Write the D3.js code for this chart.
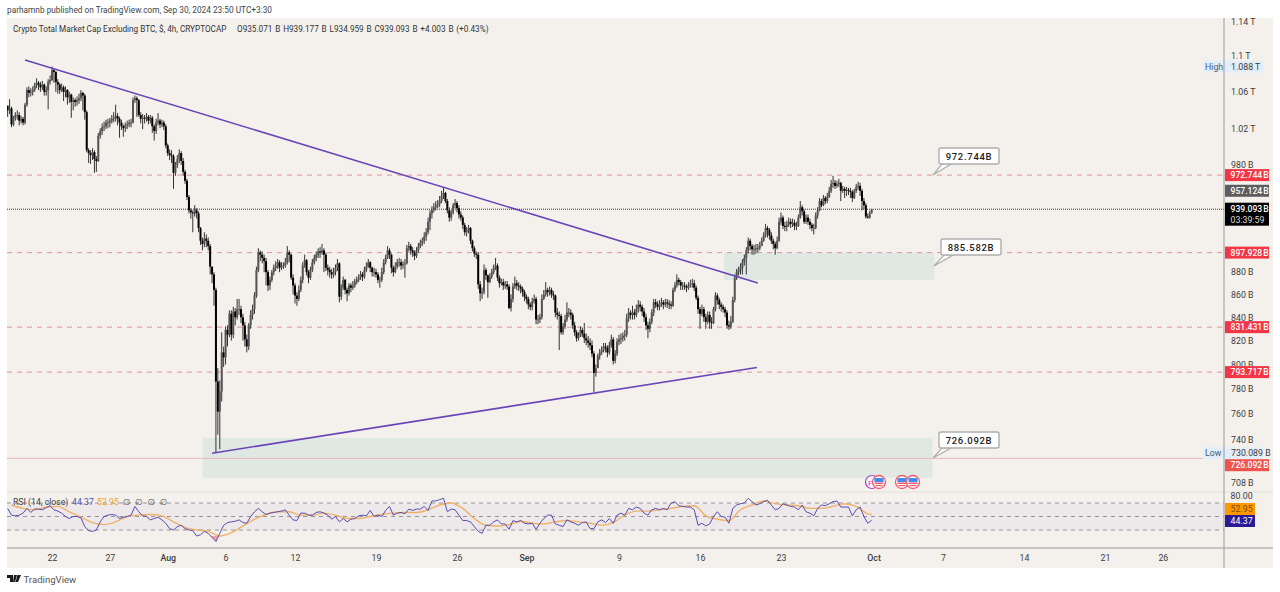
<!DOCTYPE html>
<meta charset="utf-8">
<style type="text/css">
    html, body { margin: 0; padding: 0; background: #fff; }
    svg { display: block; }
    text { font-family: Roboto, sans-serif; }
    .tick text { font-size: 8.8px; fill: #3c3c3c; font-family: Roboto, sans-serif; }
</style>
<body>
</body>
<script src="https://cdn.jsdelivr.net/npm/d3@7"></script>
<script>
    // 4h bars in billions, one row per day, Jul 18 04:00 to Sep 30 20:00
    var firstOpen = 1045;
    var closes = [
        1040,1042,1025,1032,1035,
        1035,1029,1031,1027,1046,1062, 1059,1060,1062,1067,1070,1068, 1065,1068,1060,1062,1071,1073,
        1084,1082,1071,1068,1062,1065, 1060,1062,1054,1057,1049,1051, 1049,1051,1053,1059,1056,1038,
        998,995,993,996,989,987, 1013,1018,1022,1023,1027,1027, 1029,1031,1032,1034,1031,1027,
        1023,1021,1024,1025,1027,1027, 1051,1053,1051,1035,1031,1032, 1031,1033,1029,1032,1023,1018,
        1027,1029,1025,1027,1023,1003, 995,993,992,975,983,989, 995,987,976,967,951,938,
        936,935,938,935,921,909, 906,911,909,904,885,878, 864,786,762,778,810,806,
        829,825,843,825,845,840, 847,847,840,833,821,815, 833,842,847,859,882,898,
        896,893,890,880,868,873, 880,884,886,889,884,886, 886,889,898,896,875,868,
        859,856,864,873,886,891, 880,875,882,889,893,896, 899,898,900,896,884,882,
        880,878,880,884,888,858, 866,873,864,861,868,866, 868,871,873,875,878,876,
        882,885,889,884,880,880, 878,873,873,880,889,893, 900,896,884,880,885,889,
        889,886,887,888,902,904, 900,898,895,900,904,907, 909,913,917,927,935,938,
        941,943,944,947,952,955, 947,938,931,936,943,945, 940,934,931,924,917,919,
        921,909,902,897,896,869, 861,862,882,877,871,876, 880,884,886,875,870,871,
        868,869,867,848,856,867, 870,868,867,865,862,858, 856,851,849,854,856,838,
        838,840,856,860,864,862, 864,860,859,844,842,841, 827,832,838,844,844,842,
        833,827,822,824,829,826, 822,820,818,816,809,793, 797,807,810,812,815,814,
        810,816,821,803,809,819, 821,822,824,825,839,844, 842,844,842,847,851,849,
        845,840,833,830,836,844, 853,851,849,852,853,851, 853,852,851,850,864,868,
        873,871,868,868,867,866, 868,869,870,866,857,847, 843,847,840,836,842,836,
        835,847,859,855,851,849, 847,844,833,832,836,855, 875,880,882,884,889,893,
        900,909,904,901,901,902, 902,904,909,914,921,919, 914,909,906,902,909,927,
        931,923,922,924,927,925, 926,923,923,931,941,937, 927,931,927,924,921,921,
        933,938,947,943,950,947, 951,957,964,965,962,964, 965,957,959,957,958,957,
        956,950,957,961,962,957, 947,943,932,931,935.071,939.093
    ];
    var highs = [
        1045,1052,1044,1034,1038,
        1040,1038,1034,1033,1048,1065, 1066,1064,1066,1070,1075,1072, 1071,1072,1069,1066,1074,1078,
        1088,1086,1083,1074,1070,1069, 1067,1066,1063,1060,1058,1054, 1053,1055,1058,1062,1060,1058,
        1040,1000,998,1000,998,992, 1016,1021,1026,1028,1030,1031, 1032,1035,1038,1046,1037,1033,
        1030,1025,1027,1029,1030,1031, 1054,1056,1055,1052,1038,1036, 1035,1037,1035,1035,1034,1025,
        1031,1037,1031,1030,1029,1025, 1005,999,998,994,986,993, 999,997,990,978,969,953,
        940,938,943,940,937,922, 912,917,915,912,906,885, 880,866,797,787,827,815,
        832,833,846,846,849,848, 856,856,850,843,836,825, 835,846,851,862,885,902,
        900,899,896,893,882,876, 882,887,890,892,891,889, 889,893,904,900,897,878,
        870,862,868,876,889,896, 892,882,885,892,896,899, 902,903,906,902,898,887,
        885,883,884,887,892,889, 869,876,874,866,870,870, 872,874,876,878,881,880,
        885,889,892,890,885,884, 883,880,876,884,892,896, 904,902,897,886,889,892,
        893,892,890,892,905,908, 906,903,900,903,907,910, 912,917,921,931,938,942,
        945,947,948,952,957,960, 956,949,941,938,945,949, 947,943,937,933,926,922,
        924,922,910,904,899,898, 872,866,887,884,878,879, 883,887,893,888,877,874,
        874,872,872,869,860,870, 876,873,871,869,867,864, 860,858,853,857,860,858,
        842,843,860,864,871,866, 867,866,863,860,848,845, 843,835,842,853,848,847,
        844,836,829,827,832,831, 835,826,824,822,820,811, 800,809,813,815,818,818,
        816,819,825,823,812,822, 825,826,827,829,843,848, 846,850,847,851,855,854,
        851,848,843,836,839,847, 856,856,854,855,857,855, 856,856,855,854,866,871,
        878,875,873,871,871,869, 871,873,874,873,868,859, 849,851,849,843,845,845,
        840,849,862,861,857,853, 851,849,846,837,841,858, 878,883,885,888,892,896,
        903,912,911,906,905,906, 906,908,912,917,925,923, 921,917,911,908,913,931,
        936,933,927,928,931,930, 930,929,927,934,947,943, 939,934,934,930,926,925,
        936,941,950,949,953,952, 955,961,968,972,968,967, 969,966,962,961,961,960,
        960,958,959,964,966,965, 959,950,945,935,937.5,939.177
    ];
    var lows = [
        1033,1036,1022,1023,1029,
        1030,1024,1026,1024,1025,1044, 1054,1055,1056,1060,1064,1062, 1060,1062,1056,1056,1041,1068,
        1072,1070,1060,1058,1058,1060, 1050,1054,1046,1048,1032,1040, 1044,1045,1047,1050,1040,1030,
        996,985,984,988,975,976, 986,1010,1014,1018,1020,1021, 1022,1026,1027,1028,1024,1011,
        1019,1012,1017,1020,1022,1022, 1026,1048,1033,1033,1026,1020, 1026,1028,1025,1026,1016,1008,
        1015,1024,1021,1022,1019,1000, 992,988,985,959,972,980, 985,983,972,964,948,935,
        930,917,932,930,917,905, 900,903,903,900,878,870, 850,730.089,744,733,770,798,
        800,815,823,820,822,833, 838,842,835,820,815,810, 812,830,838,843,857,880,
        890,888,880,868,863,864, 871,877,881,883,880,882, 883,884,887,889,873,860,
        852,850,854,862,870,884, 877,870,873,880,887,890, 893,893,896,880,881,877,
        875,874,875,877,881,853, 855,864,860,854,859,862, 864,866,869,871,873,872,
        874,880,884,880,876,876, 875,870,866,871,878,887, 892,892,879,876,879,883,
        885,882,883,875,887,899, 896,894,891,893,898,902, 904,906,909,915,919,930,
        936,938,940,941,945,949, 945,935,927,928,934,940, 936,930,928,920,914,913,
        916,906,899,894,892,865, 854,856,860,873,857,870, 874,878,882,872,866,868,
        864,865,864,847,845,853, 865,864,863,861,858,854, 852,847,846,846,852,834,
        834,835,838,855,858,858, 859,857,855,840,838,812, 825,825,830,836,840,838,
        830,824,819,820,823,823, 818,816,814,812,806,777.5, 790,797,804,808,810,810,
        806,808,814,800,801,807, 816,817,819,820,823,836, 838,838,838,840,844,845,
        841,836,829,822,827,834, 841,848,846,846,849,847, 849,848,847,847,849,862,
        866,868,864,864,864,862, 864,866,866,863,855,843, 830,841,836,830,834,830,
        830,834,845,851,847,845, 844,840,830,829,830,835, 853,873,877,878,878,886,
        878,897,900,896,896,897, 898,900,904,908,912,912, 910,906,901,896,901,908,
        924,920,918,918,922,921, 922,919,919,922,930,933, 925,925,924,920,918,915,
        920,930,937,941,942,944, 945,950,955,960,959,960, 961,947,955,950,952,953,
        950,946,949,955,958,952, 938,939,930,930,930,934.959
    ];

    // RSI every 8h, three values a day
    var rsiValues = [
        62,52,51, 52,55,62, 56,61,61, 60,63,66, 60,58,55, 50,47,50, 50,48,35, 29,28,30, 42,50,52,
        53,52,47, 49,50,52, 65,57,51, 50,45,47, 49,45,40, 32,30,35, 37,32,30, 29,21,23, 28,25,19,
        13,25,37, 41,42,43, 45,41,40, 50,57,62, 57,53,55, 56,57,58, 60,52,45, 44,55,55, 52,52,56,
        57,55,52, 46,50,42, 47,42,46, 47,51,52, 51,59,50, 52,50,59, 65,52,55, 56,54,61, 59,61,61,
        65,59,73, 73,75,77, 57,61,60, 52,44,44, 42,35,28, 25,37,37, 42,45,39, 39,31,44, 42,44,40,
        39,40,31, 40,47,52, 52,39,37, 35,45,42, 40,37,41, 42,32,32, 42,45,41, 47,40,52, 55,52,62,
        60,64,62, 55,52,60, 62,60,62, 60,70,72, 66,65,64, 64,60,37, 40,36,39, 50,57,50, 49,40,62,
        67,69,70, 77,72,67, 69,72,74, 67,60,62, 69,67,65, 64,60,67, 57,55,51, 62,67,66, 69,72,73,
        64,64,64, 51,60,64, 50,40,44.37
    ];
    // RSI moving average, one value a day at noon
    var rsiMaValues = [
        67,62,60,64,65,57,49,41,38,42,50,52,53,51,42,34,30,28,21,26,36,46,53,57,57,52,
        52,55,52,47,47,50,53,55,56,56,60,67,70,62,47,37,36,38,43,40,39,42,44,42,40,
        37,41,52,58,58,60,62,65,66,51,46,44,60,67,73,69,67,66,62,62,65,69,65,54
    ];
    var rsiMaLast = 52.95;

    var priceTicks = [1140,1100,1060,1020,980,880,860,840,820,800,780,760,740,708];
    var dateTicks = [
        [2024,6,22,"22"],[2024,6,27,"27"],[2024,7,1,"Aug"],[2024,7,6,"6"],[2024,7,12,"12"],[2024,7,19,"19"],
        [2024,7,26,"26"],[2024,8,1,"Sep"],[2024,8,9,"9"],[2024,8,16,"16"],[2024,8,23,"23"],[2024,9,1,"Oct"],
        [2024,9,7,"7"],[2024,9,14,"14"],[2024,9,21,"21"],[2024,9,26,"26"]
    ];
    var dashedLevels = [972.744, 897.928, 831.431, 793.717];
    var lastPrice = 939.093, lowLine = 726.092;
    // [date, price] ends of the drawn trend lines
    var trendLines = [
        [[Date.UTC(2024,6,19,16), 1095.5], [Date.UTC(2024,8,21,0), 870.3]],
        [[Date.UTC(2024,7,4,20), 730], [Date.UTC(2024,8,20,22), 797.5]]
    ];
    // [from, to, top price, bottom price]
    var zones = [
        [Date.UTC(2024,8,18,2), Date.UTC(2024,9,6,6), 897.9, 873],
        [Date.UTC(2024,7,4,0), Date.UTC(2024,9,6,2), 741.6, 711.8]
    ];
    var callouts = [
        {label: "972.744B", px: 939, py: 148, tx: 933, ty: 175},
        {label: "885.582B", px: 941, py: 239, tx: 934, ty: 266},
        {label: "726.092B", px: 939, py: 432, tx: 933, ty: 458}
    ];
    var priceTags = [
        {label: "972.744 B", v: 972.744, fill: "#f23645"},
        {label: "957.124 B", v: 957.124, fill: "#5d5d5f"},
        {label: "897.928 B", v: 897.928, fill: "#f23645"},
        {label: "831.431 B", v: 831.431, fill: "#f23645"},
        {label: "793.717 B", v: 793.717, fill: "#f23645"},
        {label: "726.092 B", v: 721, fill: "#ef5350"}   // label pushed down below the Low tag
    ];

    var width = 1280, height = 592;
    var chartLeft = 7, chartRight = 1273, axisX = 1224, chartTop = 18, chartBottom = 568;
    var paneTop = 492, timeAxisY = 548;
    var bgColor = "#f4f1ed";

    var x = d3.scaleUtc()
        .domain([Date.UTC(2024,6,22), Date.UTC(2024,8,23)])
        .range([52, 781]);
    var y = d3.scaleLog()
        .domain([1100, 740])
        .range([56, 440]);
    var yRsi = d3.scaleLinear()
        .domain([30, 70])
        .range([530, 503]);

    var barStart = Date.UTC(2024,6,18,4), hour = 3600 * 1000;
    var bars = closes.map(function(c, i) {
        return {t: barStart + i * 4 * hour, o: i ? closes[i-1] : firstOpen, h: highs[i], l: lows[i], c: c};
    });
    var rsiData = rsiValues.map(function(v, i) { return {t: barStart + i * 8 * hour, v: v}; });
    var rsiMaData = rsiMaValues.map(function(v, i) { return {t: Date.UTC(2024,6,18,12) + i * 24 * hour, v: v}; });
    rsiMaData.push({t: Date.UTC(2024,8,30,20), v: rsiMaLast});

    var svg = d3.select("body").append("svg")
        .attr("width", width)
        .attr("height", height);

    var defs = svg.append("defs");
    defs.append("clipPath").attr("id", "priceClip").append("rect")
        .attr("x", chartLeft).attr("y", chartTop).attr("width", axisX - chartLeft).attr("height", paneTop - chartTop);
    defs.append("clipPath").attr("id", "belowFill").append("rect")
        .attr("x", chartLeft).attr("y", yRsi(21)).attr("width", axisX - chartLeft).attr("height", timeAxisY - yRsi(21));

    // chart background
    svg.append("rect")
        .attr("x", chartLeft).attr("y", chartTop)
        .attr("width", chartRight - chartLeft).attr("height", chartBottom - chartTop)
        .attr("fill", bgColor);

    // zones
    var main = svg.append("g").attr("clip-path", "url(#priceClip)");
    main.selectAll(".zone")
        .data(zones)
        .enter().append("rect")
        .attr("class", "zone")
        .attr("x", function(d) { return x(d[0]); })
        .attr("y", function(d) { return y(d[2]); })
        .attr("width", function(d) { return x(d[1]) - x(d[0]); })
        .attr("height", function(d) { return y(d[3]) - y(d[2]); })
        .attr("fill", "#dfe8e2");

    // horizontal levels
    main.selectAll(".level")
        .data(dashedLevels)
        .enter().append("line")
        .attr("class", "level")
        .attr("x1", chartLeft).attr("x2", axisX)
        .attr("y1", function(d) { return y(d); })
        .attr("y2", function(d) { return y(d); })
        .attr("stroke", "#e98f98")
        .attr("stroke-width", 1)
        .attr("stroke-dasharray", "5 5");
    main.append("line")
        .attr("x1", chartLeft).attr("x2", axisX)
        .attr("y1", y(lastPrice)).attr("y2", y(lastPrice))
        .attr("stroke", "#333")
        .attr("stroke-dasharray", "1 1");
    main.append("line")
        .attr("x1", chartLeft).attr("x2", 1203)
        .attr("y1", y(lowLine)).attr("y2", y(lowLine))
        .attr("stroke", "#e8b7b7");

    // candles
    var candle = main.selectAll(".candle")
        .data(bars)
        .enter().append("g")
        .attr("class", "candle");
    candle.append("line")
        .attr("x1", function(d) { return x(d.t); })
        .attr("x2", function(d) { return x(d.t); })
        .attr("y1", function(d) { return y(d.h); })
        .attr("y2", function(d) { return y(d.l); })
        .attr("stroke", "#333")
        .attr("stroke-width", 1);
    candle.append("rect")
        .attr("x", function(d) { return x(d.t) - 1; })
        .attr("width", 2)
        .attr("y", function(d) { return y(Math.max(d.o, d.c)); })
        .attr("height", function(d) { return Math.max(0.8, Math.abs(y(d.o) - y(d.c))); })
        .attr("fill", function(d) { return d.c >= d.o ? "#555" : "#000"; });

    // trend lines
    var trend = d3.line()
        .x(function(d) { return x(d[0]); })
        .y(function(d) { return y(d[1]); });
    main.selectAll(".trend")
        .data(trendLines)
        .enter().append("path")
        .attr("class", "trend")
        .attr("d", trend)
        .attr("fill", "none")
        .attr("stroke", "#6a45b8")
        .attr("stroke-width", 1.6);

    // callouts
    var callout = svg.selectAll(".callout")
        .data(callouts)
        .enter().append("g")
        .attr("class", "callout");
    callout.append("path")
        .attr("d", function(d) {
            return "M" + d.tx + "," + d.ty + "L" + (d.px + 3) + "," + (d.py + 16) + "L" + (d.px + 12) + "," + (d.py + 16) + "Z";
        })
        .attr("fill", "#fff").attr("stroke", "#aeaeae").attr("stroke-width", 1.2);
    callout.append("rect")
        .attr("x", function(d) { return d.px; })
        .attr("y", function(d) { return d.py; })
        .attr("width", 60).attr("height", 16).attr("rx", 2)
        .attr("fill", "#fff").attr("stroke", "#aeaeae").attr("stroke-width", 1.4);
    callout.append("text")
        .attr("x", function(d) { return d.px + 30; })
        .attr("y", function(d) { return d.py + 11.5; })
        .attr("text-anchor", "middle")
        .attr("font-size", 9.5)
        .attr("font-weight", 500)
        .attr("letter-spacing", 0.7)
        .attr("fill", "#1c1c1c")
        .text(function(d) { return d.label; });

    // event icons in the bottom of the price pane
    var eventIcons = svg.append("g");
    eventIcons.append("circle").attr("cx", 872).attr("cy", 482).attr("r", 6.5)
        .attr("fill", "#fff").attr("stroke", "#a23fc4").attr("stroke-width", 1.2);
    eventIcons.append("text").attr("x", 868).attr("y", 485.5).attr("font-size", 8).attr("fill", "#a23fc4").text("F");
    [879, 902, 913].forEach(function(cx) {
        var g = eventIcons.append("g");
        g.append("circle").attr("cx", cx).attr("cy", 482).attr("r", 6.5)
            .attr("fill", "#fff").attr("stroke", "#f05a6a").attr("stroke-width", 1.3);
        g.append("rect").attr("x", cx - 4.5).attr("y", 478).attr("width", 9).attr("height", 4).attr("fill", "#3f8cf0");
        g.append("rect").attr("x", cx - 4.5).attr("y", 482.5).attr("width", 9).attr("height", 1.5).attr("fill", "#f05a6a");
        g.append("rect").attr("x", cx - 3.5).attr("y", 485).attr("width", 7).attr("height", 1.2).attr("fill", "#f05a6a");
    });

    // RSI pane
    svg.append("rect")
        .attr("x", chartLeft).attr("width", axisX - chartLeft)
        .attr("y", yRsi(70)).attr("height", yRsi(30) - yRsi(70))
        .attr("fill", "#7e57c2").attr("opacity", 0.05);
    svg.selectAll(".rsiLevel")
        .data([70, 50, 30])
        .enter().append("line")
        .attr("class", "rsiLevel")
        .attr("x1", chartLeft).attr("x2", axisX)
        .attr("y1", function(d) { return yRsi(d); })
        .attr("y2", function(d) { return yRsi(d); })
        .attr("stroke", "#959595")
        .attr("stroke-dasharray", "4 4");
    var rsiLine = d3.line()
        .x(function(d) { return x(d.t); })
        .y(function(d) { return yRsi(d.v); });
    svg.append("path")
        .datum(rsiData)
        .attr("clip-path", "url(#belowFill)")
        .attr("d", d3.area()
            .x(function(d) { return x(d.t); })
            .y0(yRsi(21))
            .y1(function(d) { return yRsi(d.v); }))
        .attr("fill", "#ef5350")
        .attr("opacity", 0.5);
    svg.append("path")
        .datum(rsiMaData)
        .attr("d", rsiLine.curve(d3.curveMonotoneX))
        .attr("fill", "none")
        .attr("stroke", "#efb26a")
        .attr("stroke-width", 1.4);
    svg.append("path")
        .datum(rsiData)
        .attr("d", rsiLine.curve(d3.curveLinear))
        .attr("fill", "none")
        .attr("stroke", "#5a4db0")
        .attr("stroke-width", 1);

    // pane lines
    svg.append("line").attr("x1", chartLeft).attr("x2", chartRight).attr("y1", paneTop).attr("y2", paneTop)
        .attr("stroke", "#e4e1dd");
    svg.append("line").attr("x1", chartLeft).attr("x2", chartRight).attr("y1", timeAxisY).attr("y2", timeAxisY)
        .attr("stroke", "#9a9a9a");
    svg.append("line").attr("x1", axisX).attr("x2", axisX).attr("y1", chartTop).attr("y2", chartBottom)
        .attr("stroke", "#9a9a9a");

    // axes
    var timeAxis = d3.axisBottom(x)
        .tickValues(dateTicks.map(function(d) { return new Date(Date.UTC(d[0], d[1], d[2])); }))
        .tickSize(0)
        .tickPadding(7)
        .tickFormat(function(d, i) { return dateTicks[i][3]; });
    svg.append("g")
        .attr("transform", "translate(0," + timeAxisY + ")")
        .call(timeAxis)
        .call(function(g) { g.select(".domain").remove(); })
        .selectAll("text")
        .attr("font-weight", function(d, i) { return isNaN(+dateTicks[i][3]) ? 500 : 400; })
        .attr("fill", "#3c3c3c");

    var priceAxis = d3.axisRight(y)
        .tickValues(priceTicks)
        .tickSize(0)
        .tickPadding(7)
        .tickFormat(function(d) { return d >= 1000 ? (d / 1000) + " T" : d + " B"; });
    var axisG = svg.append("g")
        .attr("transform", "translate(" + axisX + ",0)")
        .call(priceAxis)
        .call(function(g) { g.select(".domain").remove(); });
    axisG.selectAll("text").attr("dy", "0.32em");
    // the 980 B label sits behind the 972.744 B tag in the reference, nudged up so it stays readable
    axisG.selectAll(".tick").filter(function(d) { return d === 980; }).select("text").attr("dy", "-0.1em");

    // High / Low marks
    var extremes = [
        {side: "High", value: "1.088 T", v: 1088},
        {side: "Low", value: "730.089 B", v: 730.089}
    ];
    var ext = svg.selectAll(".extreme")
        .data(extremes)
        .enter().append("g")
        .attr("class", "extreme");
    ext.append("rect")
        .attr("x", 1203).attr("width", 60)
        .attr("y", function(d) { return y(d.v) - 6; })
        .attr("height", 12)
        .attr("fill", "#e3eef8");
    ext.append("line")
        .attr("x1", axisX).attr("x2", axisX)
        .attr("y1", function(d) { return y(d.v) - 6; })
        .attr("y2", function(d) { return y(d.v) + 6; })
        .attr("stroke", "#9a9a9a");
    ext.append("text")
        .attr("x", 1205)
        .attr("y", function(d) { return y(d.v) + 3.2; })
        .attr("font-size", 8.8).attr("fill", "#45617a")
        .text(function(d) { return d.side; });
    ext.append("text")
        .attr("x", 1231)
        .attr("y", function(d) { return y(d.v) + 3.2; })
        .attr("font-size", 8.8).attr("fill", "#3c3c3c")
        .text(function(d) { return d.value; });

    // price tags on the axis
    var tag = svg.selectAll(".tag")
        .data(priceTags)
        .enter().append("g")
        .attr("class", "tag");
    tag.append("rect")
        .attr("x", axisX + 1).attr("width", 44)
        .attr("y", function(d) { return y(d.v) - 6; })
        .attr("height", 12)
        .attr("fill", function(d) { return d.fill; });
    tag.append("text")
        .attr("x", axisX + 6.5)
        .attr("y", function(d) { return y(d.v) + 3.2; })
        .attr("font-size", 8.6)
        .attr("font-weight", 500)
        .attr("word-spacing", -1)
        .attr("fill", "#fff")
        .text(function(d) { return d.label; });

    svg.append("rect")
        .attr("x", axisX + 1).attr("y", y(lastPrice) - 6.5).attr("width", 44).attr("height", 23)
        .attr("fill", "#000");
    svg.append("text").attr("x", axisX + 6.5).attr("y", y(lastPrice) + 3).attr("font-size", 8.6)
        .attr("font-weight", 500).attr("word-spacing", -1).attr("fill", "#fff")
        .text("939.093 B");
    svg.append("text").attr("x", axisX + 6.5).attr("y", y(lastPrice) + 13.5).attr("font-size", 8.8).attr("fill", "#ddd")
        .text("03:39:59");

    // RSI labels on the axis
    svg.append("text").attr("x", axisX + 6.5).attr("y", yRsi(80) + 3.2).attr("font-size", 8.8).attr("fill", "#3c3c3c")
        .text("80.00");
    var rsiTags = [
        {label: "52.95", py: 509, fill: "#ff9800", color: "#7a4b00"},
        {label: "44.37", py: 521, fill: "#2a1a96", color: "#fff"}
    ];
    var rsiTag = svg.selectAll(".rsiTag")
        .data(rsiTags)
        .enter().append("g")
        .attr("class", "rsiTag");
    rsiTag.append("rect")
        .attr("x", axisX + 1).attr("width", 30)
        .attr("y", function(d) { return d.py - 6; })
        .attr("height", 12)
        .attr("fill", function(d) { return d.fill; });
    rsiTag.append("text")
        .attr("x", axisX + 6.5)
        .attr("y", function(d) { return d.py + 3.2; })
        .attr("font-size", 8.8)
        .attr("fill", function(d) { return d.color; })
        .text(function(d) { return d.label; });

    // header and legends
    svg.append("text").attr("x", 7).attr("y", 13).attr("font-size", 8.3).attr("fill", "#444")
        .text("parhamnb published on TradingView.com, Sep 30, 2024 23:50 UTC+3:30");
    svg.append("text").attr("x", 13).attr("y", 32).attr("font-size", 8.2).attr("fill", "#333")
        .text("Crypto Total Market Cap Excluding BTC, $, 4h, CRYPTOCAP");
    svg.append("text").attr("x", 237).attr("y", 32).attr("font-size", 8.2).attr("word-spacing", 0.8).attr("fill", "#333")
        .text("O935.071 B H939.177 B L934.959 B C939.093 B +4.003 B (+0.43%)");
    svg.append("text").attr("x", 13).attr("y", 505).attr("font-size", 8.7).attr("fill", "#444")
        .text("RSI (14, close)");
    svg.append("text").attr("x", 72).attr("y", 505).attr("font-size", 8.7).attr("fill", "#5a4db0").text("44.37");
    svg.append("text").attr("x", 97).attr("y", 505).attr("font-size", 8.7).attr("fill", "#f0a030").text("52.95");
    svg.append("text").attr("x", 123).attr("y", 505).attr("font-size", 8.7).attr("word-spacing", 2).attr("fill", "#444")
        .attr("style", "font-family: 'DejaVu Sans'").text("∅ ∅ ∅ ∅");

    // footer logo
    var logo = svg.append("g").attr("transform", "translate(7,575)");
    logo.append("path").attr("d", "M0,0H6V7H3V3H0Z M7,0 H10 L8,7 H6Z M10.5,0H14L11,7H8.5Z").attr("fill", "#1a1a1a");
    svg.append("text").attr("x", 23.5).attr("y", 583).attr("font-size", 9.6).attr("fill", "#555").text("TradingView");
</script>
